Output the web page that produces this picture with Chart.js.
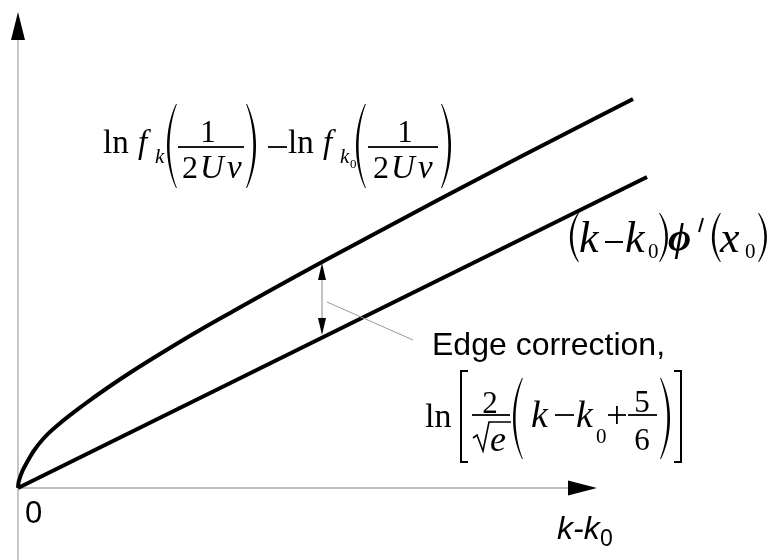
<!DOCTYPE html>
<html>
<head>
<meta charset="utf-8">
<script src="https://cdn.jsdelivr.net/npm/chart.js@4"></script>
<style>
  html, body { margin: 0; padding: 0; background: #fff; }
  canvas { display: block; }
</style>
</head>
<body>
<canvas id="chart" width="773" height="560"></canvas>
<script>
// upper curve: ln f_k - ln f_k0, against k - k0 (axis units)
const shiftedK = [0, 0.008, 0.034, 0.08, 0.14, 0.24, 0.31, 0.51, 0.81, 1.31, 1.77, 2.31, 2.97, 3.64, 4.31, 4.97, 5.64, 6.21, 8.4, 10.04, 12.3];
const lnRatio = [0, 0.09, 0.19, 0.32, 0.44, 0.62, 0.735, 0.99, 1.27, 1.66, 1.99, 2.35, 2.76, 3.16, 3.54, 3.91, 4.28, 4.59, 5.76, 6.62, 7.78];

// straight line (k - k0) phi'(x0)
const linearK = [0, 12.58];
const linearPhi = [0, 6.22];

// where the axis arrows end
const xAxisTip = 11.58;
const yAxisTip = 9.52;

// double arrow for the edge correction and its leader line
const gapK = 6.08;
const gapTop = 4.52;
const gapBottom = 3.04;
const leaderFrom = [6.18, 3.72];
const leaderTo = [7.9, 2.96];

const SERIF = '"Liberation Serif", "Times New Roman", serif';
const SANS = '"Liberation Sans", Arial, sans-serif';

function put(ctx, s, x, y, font, align) {
    ctx.font = font;
    ctx.textAlign = align || "left";
    ctx.textBaseline = "alphabetic";
    ctx.fillText(s, x, y);
}

function bar(ctx, x1, x2, y, h) {
    h = h || 1.8;
    ctx.fillRect(x1, y - h / 2, x2 - x1, h);
}

// tall parenthesis: x is the outer bulge, the ends sit w pixels inward
function paren(ctx, x, y1, y2, open, w, th) {
    w = w || 9;
    th = th || 2.4;
    const d = open ? 1 : -1;
    const e = x + d * w;
    const h = y2 - y1;
    const xo = x - d * w / 3;
    const xi = x + d * (th - 0.25 * w) / 0.75;
    ctx.beginPath();
    ctx.moveTo(e, y1);
    ctx.bezierCurveTo(xo, y1 + 0.3 * h, xo, y2 - 0.3 * h, e, y2);
    ctx.lineTo(e + d * 0.9, y2);
    ctx.bezierCurveTo(xi, y2 - 0.3 * h, xi, y1 + 0.3 * h, e + d * 0.9, y1);
    ctx.closePath();
    ctx.fill();
}

function bracket(ctx, x, y1, y2, open) {
    const d = open ? 1 : -1;
    ctx.fillRect(x - 1, y1, 2, y2 - y1);
    bar(ctx, x - d * 1, x + d * 7, y1 + 1, 2);
    bar(ctx, x - d * 1, x + d * 7, y2 - 1, 2);
}

const drawing = {
    id: "drawing",
    beforeDatasetsDraw(chart) {
        const ctx = chart.ctx;
        const sx = chart.scales.x, sy = chart.scales.y;
        const x0 = sx.getPixelForValue(0), y0 = sy.getPixelForValue(0);
        const xt = sx.getPixelForValue(xAxisTip), yt = sy.getPixelForValue(yAxisTip);
        ctx.save();
        ctx.strokeStyle = "#aaaaaa";
        ctx.lineWidth = 1.3;
        ctx.beginPath();
        ctx.moveTo(x0, chart.height);
        ctx.lineTo(x0, yt + 20);
        ctx.moveTo(x0, y0);
        ctx.lineTo(xt - 20, y0);
        ctx.stroke();
        ctx.fillStyle = "#000";
        ctx.beginPath();
        ctx.moveTo(x0, yt);
        ctx.lineTo(x0 - 7, yt + 28);
        ctx.lineTo(x0 + 7, yt + 28);
        ctx.closePath();
        ctx.moveTo(xt, y0);
        ctx.lineTo(xt - 29, y0 - 7.5);
        ctx.lineTo(xt - 29, y0 + 7.5);
        ctx.closePath();
        ctx.fill();
        ctx.restore();
    },
    afterDatasetsDraw(chart) {
        const ctx = chart.ctx;
        const sx = chart.scales.x, sy = chart.scales.y;
        ctx.save();

        // edge correction double arrow
        const gx = sx.getPixelForValue(gapK);
        const gt = sy.getPixelForValue(gapTop) + 1;
        const gb = sy.getPixelForValue(gapBottom) - 1;
        ctx.strokeStyle = "#888";
        ctx.lineWidth = 1;
        ctx.beginPath();
        ctx.moveTo(gx, gt + 10);
        ctx.lineTo(gx, gb - 10);
        ctx.stroke();
        ctx.fillStyle = "#000";
        ctx.beginPath();
        ctx.moveTo(gx, gt);
        ctx.lineTo(gx - 4, gt + 17);
        ctx.lineTo(gx + 4, gt + 17);
        ctx.closePath();
        ctx.moveTo(gx, gb);
        ctx.lineTo(gx - 4, gb - 17);
        ctx.lineTo(gx + 4, gb - 17);
        ctx.closePath();
        ctx.fill();

        // leader line
        ctx.strokeStyle = "#999";
        ctx.beginPath();
        ctx.moveTo(sx.getPixelForValue(leaderFrom[0]), sy.getPixelForValue(leaderFrom[1]));
        ctx.lineTo(sx.getPixelForValue(leaderTo[0]), sy.getPixelForValue(leaderTo[1]));
        ctx.stroke();

        ctx.fillStyle = "#000";

        // axis labels
        put(ctx, "0", 25, 523, "31px " + SANS);
        put(ctx, "k-k", 557, 539, "italic 32px " + SANS);
        put(ctx, "0", 600, 546, "23px " + SANS);

        // ln f_k(1/(2Uv)) - ln f_k0(1/(2Uv))
        put(ctx, "ln", 103, 153, "33px " + SERIF);
        put(ctx, "f", 138, 153, "italic 33px " + SERIF);
        put(ctx, "k", 155, 163, "italic 21px " + SERIF);
        paren(ctx, 167, 104, 188, true);
        put(ctx, "1", 208, 142, "31px " + SERIF, "center");
        bar(ctx, 178, 244, 147);
        put(ctx, "2", 182, 178, "32px " + SERIF);
        put(ctx, "U", 200, 178, "italic 33px " + SERIF);
        put(ctx, "\u03bd", 227, 178, "italic 33px " + SERIF);
        paren(ctx, 256, 104, 188, false);
        bar(ctx, 268, 287, 147);
        put(ctx, "ln", 288, 153, "33px " + SERIF);
        put(ctx, "f", 323, 153, "italic 33px " + SERIF);
        put(ctx, "k", 340, 163, "italic 21px " + SERIF);
        put(ctx, "0", 350, 168, "13px " + SERIF);
        paren(ctx, 356, 104, 188, true);
        put(ctx, "1", 405, 142, "31px " + SERIF, "center");
        bar(ctx, 368, 438, 147);
        put(ctx, "2", 373, 178, "32px " + SERIF);
        put(ctx, "U", 391, 178, "italic 33px " + SERIF);
        put(ctx, "\u03bd", 418, 178, "italic 33px " + SERIF);
        paren(ctx, 451, 104, 188, false);

        // (k - k0) phi'(x0)
        paren(ctx, 570, 213, 262, true, 8, 2.4);
        put(ctx, "k", 579, 252, "italic 44px " + SERIF);
        bar(ctx, 605, 623, 242, 2);
        put(ctx, "k", 625, 252, "italic 44px " + SERIF);
        put(ctx, "0", 648, 258, "21px " + SERIF);
        paren(ctx, 668, 213, 262, false, 8, 2.4);
        put(ctx, "\u03d5", 668, 250, "italic bold 40px " + SERIF);
        ctx.lineWidth = 2;
        ctx.strokeStyle = "#000";
        ctx.beginPath();
        ctx.moveTo(703, 218);
        ctx.lineTo(699, 232);
        ctx.stroke();
        paren(ctx, 712, 213, 262, true, 8, 2.4);
        put(ctx, "x", 720, 252, "italic 44px " + SERIF);
        put(ctx, "0", 745, 258, "21px " + SERIF);
        paren(ctx, 767, 213, 262, false, 8, 2.4);

        // Edge correction, ln[2/sqrt(e) (k - k0 + 5/6)]
        put(ctx, "Edge correction,", 432, 355, "32px " + SANS);
        put(ctx, "ln", 425, 427, "34px " + SERIF);
        bracket(ctx, 461, 370, 463, true);
        put(ctx, "2", 490, 413, "31px " + SERIF, "center");
        bar(ctx, 472, 510, 415);
        ctx.lineWidth = 1.6;
        ctx.beginPath();
        ctx.moveTo(473, 438);
        ctx.lineTo(477, 435);
        ctx.lineTo(483, 451);
        ctx.lineTo(489, 422);
        ctx.lineTo(511, 422);
        ctx.stroke();
        put(ctx, "e", 490, 451, "italic 36px " + SERIF);
        paren(ctx, 513, 378, 459, true);
        put(ctx, "k", 531, 427, "italic 38px " + SERIF);
        bar(ctx, 555, 574, 415);
        put(ctx, "k", 576, 427, "italic 38px " + SERIF);
        put(ctx, "0", 596, 443, "21px " + SERIF);
        bar(ctx, 608, 626, 415);
        ctx.fillRect(616, 406, 1.8, 18);
        put(ctx, "5", 642, 412, "31px " + SERIF, "center");
        bar(ctx, 628, 657, 415);
        put(ctx, "6", 642, 450, "31px " + SERIF, "center");
        paren(ctx, 670, 378, 459, false);
        bracket(ctx, 681, 370, 463, false);

        ctx.restore();
    }
};

new Chart(document.getElementById("chart"), {
    type: "line",
    data: {
        datasets: [
            {
                data: shiftedK.map((k, i) => ({ x: k, y: lnRatio[i] })),
                cubicInterpolationMode: "monotone"
            },
            {
                data: linearK.map((k, i) => ({ x: k, y: linearPhi[i] }))
            }
        ]
    },
    options: {
        responsive: false,
        animation: false,
        layout: { padding: { left: 18, right: 55, top: 8, bottom: 0 } },
        elements: {
            point: { radius: 0 },
            line: { borderColor: "#000", borderWidth: 4, fill: false }
        },
        datasets: { line: { clip: false } },
        scales: {
            x: { type: "linear", min: 0, max: 14, display: false },
            y: { type: "linear", min: -1.44, max: 9.6, display: false }
        },
        plugins: {
            legend: { display: false },
            tooltip: { enabled: false }
        }
    },
    plugins: [drawing]
});
</script>
</body>
</html>
